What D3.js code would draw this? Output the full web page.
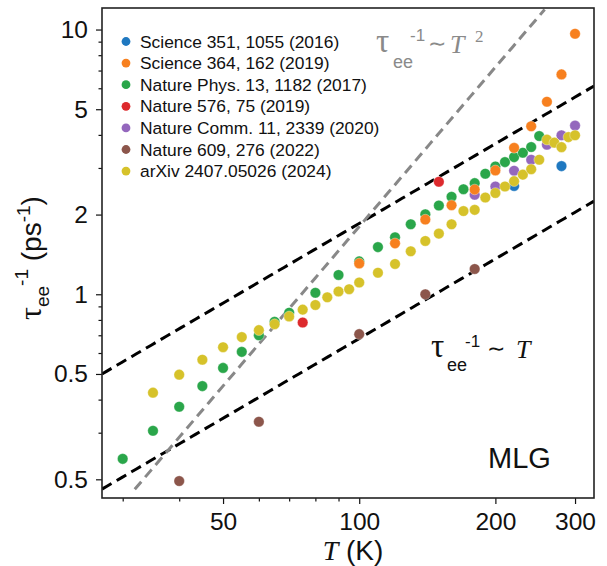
<!DOCTYPE html>
<html><head><meta charset="utf-8">
<script src="https://cdn.jsdelivr.net/npm/d3@7"></script>
<style>body{margin:0;background:#fff}svg{display:block}</style>
</head><body>
<svg id="c" width="607" height="566"></svg>
<script>
// ---- data ----
const seriesNames = ["Science 351, 1055 (2016)","Science 364, 162 (2019)","Nature Phys. 13, 1182 (2017)","Nature 576, 75 (2019)","Nature Comm. 11, 2339 (2020)","Nature 609, 276 (2022)","arXiv 2407.05026 (2024)"];
const seriesColors = ["#1f78c0","#f7801f","#2aa64a","#dd2a2d","#9467bd","#8c564b","#d6c22a"];
const T_blue = [220,280];
const v_blue = [2.566,3.049];
const T_orange = [100,120,140,160,180,200,220,240,260,280,300];
const v_orange = [1.308,1.557,1.915,2.170,2.488,2.937,3.573,4.31,5.338,6.77,9.64];
const T_green = [30,35,40,45,50,55,60,65,70,80,90,100,110,120,130,140,150,160,170,180,190,200,210,220,230,240,250];
const v_green = [0.239,0.305,0.376,0.450,0.527,0.606,0.700,0.787,0.852,1.013,1.183,1.331,1.507,1.641,1.838,2.005,2.164,2.334,2.494,2.629,2.853,3.04,3.157,3.297,3.426,3.598,3.960];
const T_red = [75,150];
const v_red = [0.782,2.661];
const T_purple = [180,200,220,240,260,280,300];
const v_purple = [2.376,2.554,2.929,3.223,3.674,3.985,4.336];
const T_brown = [40,60,100,140,180];
const v_brown = [0.197,0.330,0.707,1.0,1.246];
const T_yellow = [35,40,45,50,55,60,65,70,75,80,85,90,95,100,110,120,130,140,150,160,170,180,190,200,210,220,230,240,250,260,270,280,290,300];
const v_yellow = [0.425,0.497,0.566,0.631,0.689,0.732,0.771,0.825,0.875,0.911,0.974,1.025,1.045,1.108,1.206,1.302,1.453,1.590,1.695,1.838,2.062,2.084,2.320,2.413,2.554,2.675,2.831,2.967,3.223,3.838,3.738,3.595,3.923,3.985];

const xMajor = [50,100,200,300];
const xTickLabels = ["50","100","200","300"];
const xMinor = [30,40,60,70,80,90];
const yMajor = [0.2,0.5,1,2,5,10];
const yTickLabels = ["0.5","0.5","1","2","5","10"];
const yMinor = [0.3,0.4,0.6,0.7,0.8,0.9,3,4,6,7,8,9];

// guide lines: tau = T/a (linear) and T^2/b (quadratic)
const linUpperDiv = 54;
const linLowerDiv = 147;
const quadDiv = 5550;
const quadTRange = [31.9, 257];

// ---- drawing ----
const svg = d3.select("#c");
const L = 102, R = 594, Tp = 8, B = 498;
const x = d3.scaleLog().domain([27.0, 330.4]).range([L, R]);
const y = d3.scaleLog().domain([0.170, 12.06]).range([B, Tp]);
const sans = "'Liberation Sans', Arial, Helvetica, sans-serif";
const serif = "'Liberation Serif', 'Times New Roman', serif";

svg.append("clipPath").attr("id","clip").append("rect")
  .attr("x",L).attr("y",Tp).attr("width",R-L).attr("height",B-Tp);

function styleAxis(g){
  g.select(".domain").remove();
  g.selectAll("line").attr("stroke","#111").attr("stroke-width",1.2);
  g.selectAll("text").attr("fill","#111").attr("font-family",sans).attr("font-size",24.5);
}
svg.append("g").attr("transform",`translate(0,${B})`)
  .call(d3.axisBottom(x).tickValues(xMajor).tickFormat((d,i)=>xTickLabels[i]).tickSize(6).tickPadding(9))
  .call(styleAxis);
svg.append("g").attr("transform",`translate(0,${B})`)
  .call(d3.axisBottom(x).tickValues(xMinor).tickFormat("").tickSize(3.5))
  .call(styleAxis);
svg.append("g").attr("transform",`translate(${L},0)`)
  .call(d3.axisLeft(y).tickValues(yMajor).tickFormat((d,i)=>yTickLabels[i]).tickSize(6).tickPadding(8))
  .call(styleAxis);
svg.append("g").attr("transform",`translate(${L},0)`)
  .call(d3.axisLeft(y).tickValues(yMinor).tickFormat("").tickSize(3.5))
  .call(styleAxis);

// guide lines
const lines = svg.append("g").attr("clip-path","url(#clip)");
const lineGen = d3.line().x(d=>x(d[0])).y(d=>y(d[1]));
const Ts = d3.range(0,101).map(i=>27*Math.pow(330.4/27,i/100));
lines.append("path").attr("d", lineGen(Ts.map(t=>[t,t/linUpperDiv])))
  .attr("fill","none").attr("stroke","#000").attr("stroke-width",3).attr("stroke-dasharray","11,6");
lines.append("path").attr("d", lineGen(Ts.map(t=>[t,t/linLowerDiv])))
  .attr("fill","none").attr("stroke","#000").attr("stroke-width",3).attr("stroke-dasharray","11,6");
const Tq = d3.range(0,51).map(i=>quadTRange[0]*Math.pow(quadTRange[1]/quadTRange[0],i/50));
lines.append("path").attr("d", lineGen(Tq.map(t=>[t,t*t/quadDiv])))
  .attr("fill","none").attr("stroke","#888").attr("stroke-width",3).attr("stroke-dasharray","10,6");

// points
const series = [
  {T:T_blue, v:v_blue, c:seriesColors[0]},
  {T:T_green, v:v_green, c:seriesColors[2]},
  {T:T_purple, v:v_purple, c:seriesColors[4]},
  {T:T_red, v:v_red, c:seriesColors[3]},
  {T:T_brown, v:v_brown, c:seriesColors[5]},
  {T:T_orange, v:v_orange, c:seriesColors[1]},
  {T:T_yellow, v:v_yellow, c:seriesColors[6]}
];
const pts = svg.append("g");
series.forEach(s=>{
  pts.selectAll(null).data(s.T.map((t,i)=>[t,s.v[i]])).enter().append("circle")
    .attr("cx",d=>x(d[0])).attr("cy",d=>y(d[1])).attr("r",5.3)
    .attr("fill",s.c).attr("stroke","#fff").attr("stroke-width",0.5).attr("stroke-opacity",0.7);
});

// frame
svg.append("rect").attr("x",L).attr("y",Tp).attr("width",R-L).attr("height",B-Tp)
  .attr("fill","none").attr("stroke","#222").attr("stroke-width",1.6);

// legend
const leg = svg.append("g");
seriesNames.forEach((n,i)=>{
  const yy = 41.5 + i*21.6;
  leg.append("circle").attr("cx",126).attr("cy",yy).attr("r",4.4).attr("fill",seriesColors[i]);
  leg.append("text").attr("x",140).attr("y",yy+6).attr("font-family",sans).attr("font-size",17.4)
    .attr("fill","#111").text(n);
});

// annotation helper
function rich(parts, color){
  const t = svg.append("text").attr("fill",color);
  parts.forEach(p=>{
    t.append("tspan").attr("x",p.x).attr("y",p.y).attr("font-family",p.f==="s"?sans:serif)
      .attr("font-size",p.size).attr("font-style",p.it?"italic":"normal").text(p.t);
  });
  return t;
}
rich([
  {t:"τ",x:376,y:52,size:33,f:"r"},
  {t:"ee",x:393,y:68,size:18,f:"s"},
  {t:"-1",x:410,y:41,size:17,f:"s"},
  {t:"∼",x:428,y:51,size:22,f:"r"},
  {t:"T",x:450,y:53,size:26,f:"r",it:true},
  {t:"2",x:475,y:42,size:17,f:"r"}
], "#8a8a8a");
rich([
  {t:"τ",x:431,y:357,size:33,f:"r"},
  {t:"ee",x:447,y:371,size:18,f:"s"},
  {t:"-1",x:465,y:347,size:17,f:"s"},
  {t:"∼",x:487,y:356,size:22,f:"r"},
  {t:"T",x:516,y:358,size:26,f:"r",it:true}
], "#111");
svg.append("text").attr("x",488).attr("y",468).attr("font-family",sans).attr("font-size",29)
  .attr("fill","#111").text("MLG");

// axis labels
const xl = svg.append("text").attr("x",353).attr("y",560).attr("text-anchor","middle").attr("fill","#111");
xl.append("tspan").attr("font-family",serif).attr("font-style","italic").attr("font-size",28).text("T");
xl.append("tspan").attr("font-family",sans).attr("font-size",28).text(" (K)");

const yl = svg.append("text").attr("transform","translate(41,258) rotate(-90)").attr("text-anchor","middle")
  .attr("fill","#111").attr("font-family",sans).attr("font-size",28);
yl.append("tspan").attr("font-family",serif).attr("font-size",32).text("τ");
yl.append("tspan").attr("font-size",19).attr("dy",8).text("ee");
yl.append("tspan").attr("font-size",19).attr("dy",-21).text("-1");
yl.append("tspan").attr("dy",13).text(" (ps");
yl.append("tspan").attr("font-size",19).attr("dy",-11).text("-1");
yl.append("tspan").attr("dy",11).text(")");
</script>
</body></html>
